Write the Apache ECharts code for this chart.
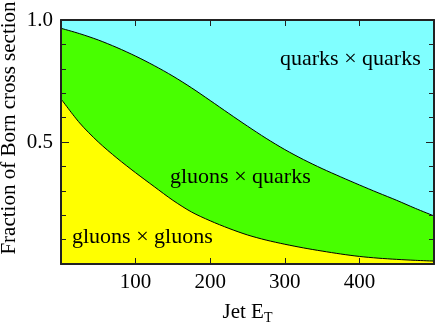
<!DOCTYPE html>
<html><head><meta charset="utf-8">
<script src="https://cdn.jsdelivr.net/npm/echarts@6/dist/echarts.min.js"></script>
<style>html,body{margin:0;padding:0;background:#fff}#c{width:436px;height:323px}</style>
</head><body><div id="c"></div>
<script>
const jetET = [0,25,50,75,100,125,150,175,200,225,250,275,300,325,350,375,400,425,450,475,500];
// upper boundary: gg + gq fraction
const ggPlusGq = [0.966,0.944,0.918,0.887,0.852,0.813,0.770,0.722,0.670,0.617,0.565,0.515,0.469,0.428,0.391,0.357,0.324,0.292,0.261,0.228,0.197];
// lower boundary: gg fraction
const gg = [0.677,0.578,0.500,0.434,0.374,0.317,0.261,0.213,0.177,0.146,0.119,0.098,0.081,0.066,0.053,0.041,0.031,0.024,0.019,0.015,0.012];
const total = jetET.map(() => 1.0);
const xTicks = [100,200,300,400];
const yTicks = [0.5,1.0];
const labels = ['quarks × quarks','gluons × quarks','gluons × gluons'];
const yTitle = 'Fraction of Born cross section';

const FONT = 'Liberation Serif';
const pairs = arr => jetET.map((e,i)=>[e,arr[i]]);
const chart = echarts.init(document.getElementById('c'));
const axisLine = {show:true, onZero:false, lineStyle:{color:'#222', width:2}};
const xTick = {show:true, inside:true, length:6, lineStyle:{color:'#222', width:1}};
const yTick = {show:true, inside:true, length:8, lineStyle:{color:'#222', width:1}};
const yMinor = {show:true, splitNumber:5, length:5, lineStyle:{color:'#222', width:1}};
chart.setOption({
  animation:false,
  textStyle:{fontFamily:FONT},
  grid:{left:61, right:2, top:20, bottom:59, containLabel:false, outerBoundsMode:'none'},
  xAxis:[{
    type:'value', min:0, max:500, interval:100, position:'bottom', z:10,
    axisLine, splitLine:{show:false}, axisTick:xTick,
    axisLabel:{fontFamily:FONT, fontSize:21, color:'#000', margin:8,
      formatter:v=> xTicks.includes(v)? String(v):''},
    name:'Jet E{s|T}', nameLocation:'middle', nameGap:35,
    nameTextStyle:{fontFamily:FONT, fontSize:21, color:'#000',
      rich:{s:{fontFamily:FONT, fontSize:14, color:'#000', verticalAlign:'bottom', padding:[12,0,0,0]}}}
  },{
    type:'value', min:0, max:500, interval:100, position:'top', z:10,
    axisLine, splitLine:{show:false}, axisTick:xTick,
    axisLabel:{show:false}
  }],
  yAxis:[{
    type:'value', min:0, max:1, interval:0.5, position:'left', z:10,
    axisLine, splitLine:{show:false}, axisTick:yTick, minorTick:yMinor,
    axisLabel:{fontFamily:FONT, fontSize:21, color:'#000', margin:8,
      formatter:v=> yTicks.some(t=>Math.abs(t-v)<1e-6)? v.toFixed(1):''}
  },{
    type:'value', min:0, max:1, interval:0.5, position:'right', z:10,
    axisLine, splitLine:{show:false}, axisTick:yTick, minorTick:yMinor,
    axisLabel:{show:false}
  }],
  series:[
    {type:'line', data:pairs(total), symbol:'none', lineStyle:{width:0},
     areaStyle:{color:'#80ffff', opacity:1}, z:1},
    {type:'line', data:pairs(ggPlusGq), symbol:'none', smooth:0.3,
     lineStyle:{color:'#000', width:1}, areaStyle:{color:'#48ff00', opacity:1}, z:2},
    {type:'line', data:pairs(gg), symbol:'none', smooth:0.3,
     lineStyle:{color:'#000', width:1}, areaStyle:{color:'#ffff00', opacity:1}, z:3}
  ],
  graphic:[
    {type:'text', x:9, y:128, rotation:Math.PI/2, z:10,
     style:{text:yTitle, font:'21px "Liberation Serif"', fill:'#000', align:'center', verticalAlign:'middle'}},
    {type:'text', left:280, top:48, z:10, style:{text:labels[0], font:'22px "Liberation Serif"', fill:'#000'}},
    {type:'text', left:170, top:166, z:10, style:{text:labels[1], font:'22px "Liberation Serif"', fill:'#000'}},
    {type:'text', left:72, top:226, z:10, style:{text:labels[2], font:'22px "Liberation Serif"', fill:'#000'}}
  ]
});
</script></body></html>
